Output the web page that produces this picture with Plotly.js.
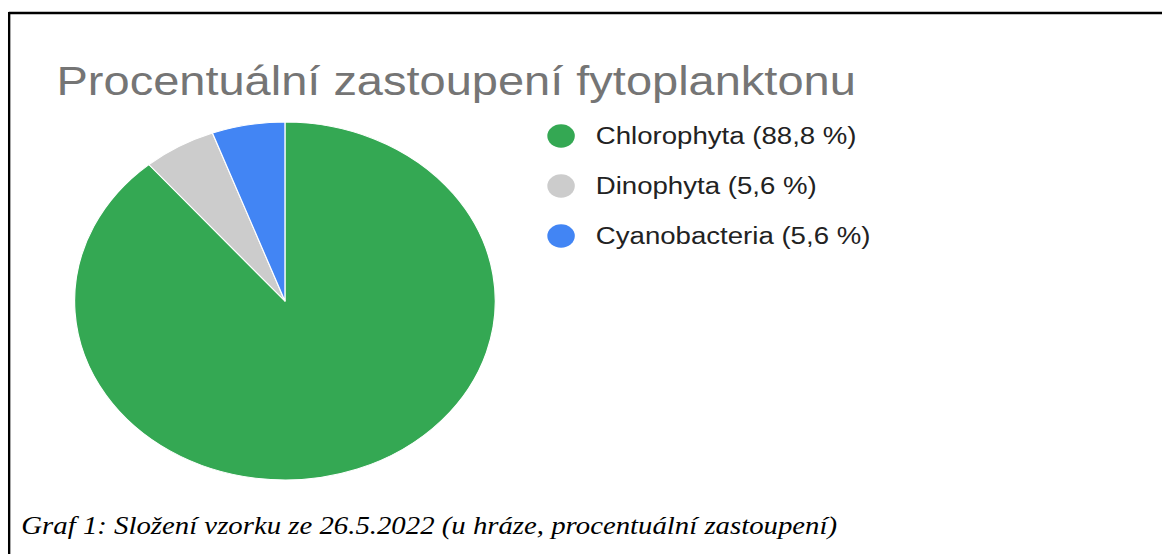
<!DOCTYPE html>
<html>
<head>
<meta charset="utf-8">
<script src="https://cdn.plot.ly/plotly-3.0.1.min.js"></script>
<style>
html, body { margin: 0; padding: 0; background: #fff; overflow: hidden; }
#wrap { width: 1162px; height: 554px; overflow: hidden; }
#chart { width: 989px; height: 554px; transform: scaleX(1.175); transform-origin: 0 0; }
</style>
</head>
<body>
<div id="wrap"><div id="chart"></div></div>
<script>
// Data
const categories = ["Chlorophyta", "Dinophyta", "Cyanobacteria"];
const percentValues = [88.8, 5.6, 5.6];
const legendLabels = ["Chlorophyta (88,8 %)", "Dinophyta (5,6 %)", "Cyanobacteria (5,6 %)"];
const sliceColors = ["#34A853", "#CCCCCC", "#4285F4"];
const chartTitle = "Procentuální zastoupení fytoplanktonu";
const captionText = "Graf 1: Složení vzorku ze 26.5.2022 (u hráze, procentuální zastoupení)";

const W = 989, H = 554;
const px = x => x / W;
const py = y => 1 - y / H;

const pie = {
  type: "pie",
  labels: categories,
  values: percentValues,
  sort: false,
  direction: "clockwise",
  rotation: 0,
  textinfo: "none",
  hoverinfo: "label+percent",
  marker: { colors: sliceColors, line: { color: "#ffffff", width: 1 } },
  domain: { x: [px(63.5), px(421.5)], y: [py(480.5), py(121.5)] },
  showlegend: false
};

const shapes = [
  { type: "line", xref: "paper", yref: "paper", x0: px(7.5), x1: 1.01, y0: py(13), y1: py(13),
    line: { color: "#000", width: 2.5 } },
  { type: "line", xref: "paper", yref: "paper", x0: px(7.8), x1: px(7.8), y0: py(12), y1: py(560),
    line: { color: "#000", width: 2 } }
];
const annotations = [
  { text: chartTitle, xref: "paper", yref: "paper", x: px(45.5), y: py(81), xanchor: "left", yanchor: "middle",
    showarrow: false, font: { family: "Liberation Sans, Arial, sans-serif", size: 40, color: "#757575" } },
  { text: "<i>" + captionText + "</i>", xref: "paper", yref: "paper", x: px(16), y: py(526), xanchor: "left", yanchor: "middle",
    showarrow: false, font: { family: "Liberation Serif, Times New Roman, serif", size: 24.5, color: "#000" } }
];
const legY = [136, 186, 236];
legendLabels.forEach((lab, i) => {
  const cx = 477.5, cy = legY[i], r = 11.7;
  shapes.push({ type: "circle", xref: "paper", yref: "paper",
    x0: px(cx - r), x1: px(cx + r), y0: py(cy - r), y1: py(cy + r),
    fillcolor: sliceColors[i], line: { width: 0 } });
  annotations.push({ text: lab, xref: "paper", yref: "paper", x: px(505), y: py(cy), xanchor: "left", yanchor: "middle",
    showarrow: false, font: { family: "Liberation Sans, Arial, sans-serif", size: 23.5, color: "#222222" } });
});

const layout = {
  width: W, height: H,
  margin: { l: 0, r: 0, t: 0, b: 0 },
  paper_bgcolor: "#ffffff",
  plot_bgcolor: "#ffffff",
  shapes: shapes,
  annotations: annotations,
  showlegend: false
};
Plotly.newPlot("chart", [pie], layout, { displayModeBar: false, staticPlot: true });
</script>
</body>
</html>
